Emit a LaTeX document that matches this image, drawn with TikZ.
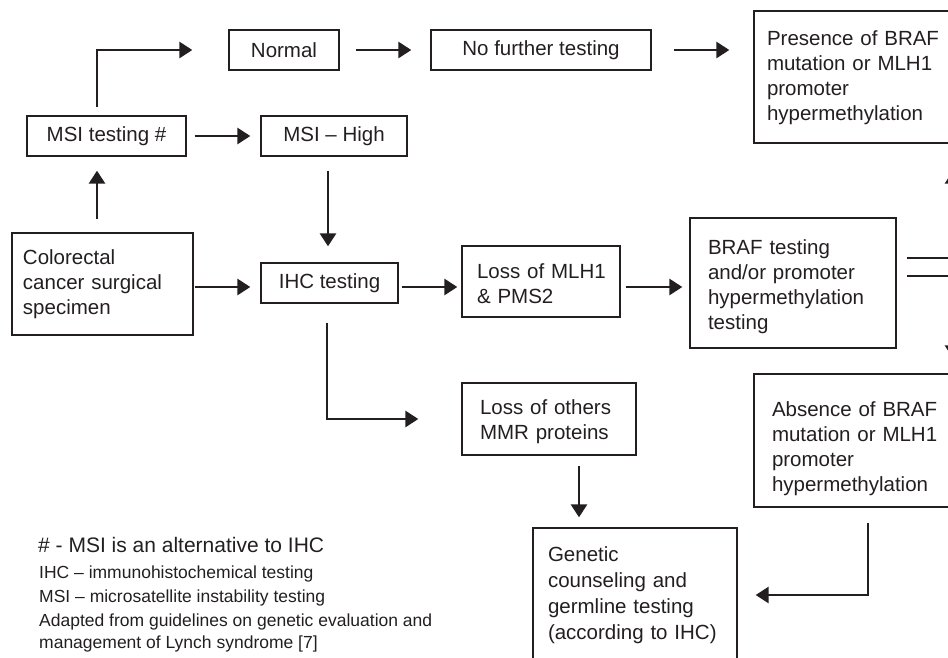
\documentclass[tikz,border=0pt]{standalone}
\usepackage{fontspec}
\setmainfont{Liberation Sans}
\usetikzlibrary{arrows.meta}
\definecolor{ink}{RGB}{35,31,32}
\begin{document}
\begin{tikzpicture}[x=1pt,y=-1pt,
  every node/.style={text=ink},
  box/.style={draw=ink, line width=1.3pt, rectangle, inner ysep=0pt, font=\fontsize{20.5}{25}\selectfont},
  sbox/.style={box, align=center, inner xsep=0pt},
  lbox/.style={box, align=left},
  arr/.style={draw=ink, line width=2.8pt, -{Triangle[length=13pt,width=16pt]}},
  legbig/.style={anchor=base west, inner sep=0pt, font=\fontsize{21}{25}\selectfont},
  legsmall/.style={anchor=base west, inner sep=0pt, font=\fontsize{17.5}{22}\selectfont}
]
\useasboundingbox (0,0) rectangle (948,657);
\begin{scope}
\clip (0,0) rectangle (948,657);
% boxes
\node[sbox, minimum width=110pt, minimum height=40pt] (normal) at (284,50) {Normal};
\node[sbox, minimum width=220pt, minimum height=40pt] (nofurther) at (541,50) {No further testing};
\node[lbox, minimum height=132pt, text width=185pt, inner xsep=13pt] (presence) at (859.5,77) {\rule{0pt}{17pt}Presence~of~BRAF\\mutation~or~MLH1\\promoter\\hypermethylation};
\node[sbox, minimum width=159pt, minimum height=40pt] (msitest) at (106.5,136) {MSI testing \#};
\node[sbox, minimum width=146pt, minimum height=40pt] (msihigh) at (334,136) {MSI -- High};
\node[lbox, minimum height=102pt, text width=159pt, inner xsep=11pt] (colorectal) at (102.5,284) {Colorectal\\cancer~surgical\\specimen};
\node[sbox, minimum width=137pt, minimum height=40pt] (ihc) at (329.5,283) {IHC testing};
\node[lbox, minimum height=71pt, text width=128pt, inner xsep=15pt] (lossmlh) at (541,281.5) {\rule{0pt}{19pt}Loss~of~MLH1\\\&~PMS2};
\node[lbox, minimum height=130pt, text width=170pt, inner xsep=18pt] (braf) at (793,283) {\rule{0pt}{23pt}BRAF~testing\\and/or~promoter\\hypermethylation\\testing};
\node[lbox, minimum height=133pt, text width=175pt, inner xsep=18pt] (absence) at (859.5,440.5) {\rule{0pt}{31pt}Absence~of~BRAF\\mutation~or~MLH1\\promoter\\hypermethylation};
\node[lbox, minimum height=72pt, text width=138pt, inner xsep=18pt] (lossothers) at (549,419) {\rule{0pt}{21pt}Loss~of~others\\MMR~proteins};
\node[lbox, minimum height=134pt, text width=174pt, inner xsep=15pt, font=\fontsize{20.5}{26}\selectfont] (genetic) at (635,595) {Genetic\\counseling~and\\germline~testing\\(according~to~IHC)};
% connectors
\draw[arr, shorten <=13pt, shorten >=14pt] ([xshift=-5.5pt]colorectal.north) -- ([xshift=-9.5pt]msitest.south);
\draw[arr, shorten <=8pt, shorten >=36pt] ([xshift=-9.5pt]msitest.north) |- (normal.west);
\draw[arr, shorten <=8pt, shorten >=10pt] (msitest.east) -- (msihigh.west);
\draw[arr, shorten <=16pt, shorten >=19pt] (normal.east) -- (nofurther.west);
\draw[arr, shorten <=22pt, shorten >=24pt] (nofurther.east) -- ([yshift=27pt]presence.west);
\draw[arr, shorten <=14pt, shorten >=16pt] ([xshift=-6pt]msihigh.south) -- ([xshift=-1.5pt]ihc.north);
\draw[arr, shorten <=1pt, shorten >=10pt] ([yshift=-3pt]colorectal.east) -- ([yshift=-4pt]ihc.west);
\draw[arr, shorten <=3pt, shorten >=4pt] ([yshift=-4pt]ihc.east) -- ([yshift=-5.5pt]lossmlh.west);
\draw[arr, shorten <=5pt, shorten >=7pt] ([yshift=-5.5pt]lossmlh.east) -- ([yshift=-4pt]braf.west);
\draw[arr, shorten <=19pt, shorten >=43pt] ([xshift=-2.5pt]ihc.south) |- (lossothers.west);
\draw[arr, shorten <=10pt, shorten >=10pt] ([xshift=30pt]lossothers.south) -- ([xshift=-56pt]genetic.north);
\draw[arr, shorten <=15pt, shorten >=18pt] ([xshift=8.5pt]absence.south) |- (genetic.east);
\draw[arr, shorten <=10pt, shorten >=27pt] ([yshift=25pt]braf.east) -| ([xshift=93.5pt]presence.south);
\draw[arr, shorten <=10pt, shorten >=15pt] ([yshift=7pt]braf.east) -| ([xshift=93.5pt]absence.north);
% legend
\node[legbig] (leg1) at (38,552) {\# - MSI is an alternative to IHC};
\node[legsmall] (leg2) at (39,578) {IHC -- immunohistochemical testing};
\node[legsmall] (leg3) at (39,602) {MSI -- microsatellite instability testing};
\node[legsmall] (leg4) at (39,626) {Adapted from guidelines on genetic evaluation and};
\node[legsmall] (leg5) at (39,648) {management of Lynch syndrome [7]};
\end{scope}
\end{tikzpicture}
\end{document}
